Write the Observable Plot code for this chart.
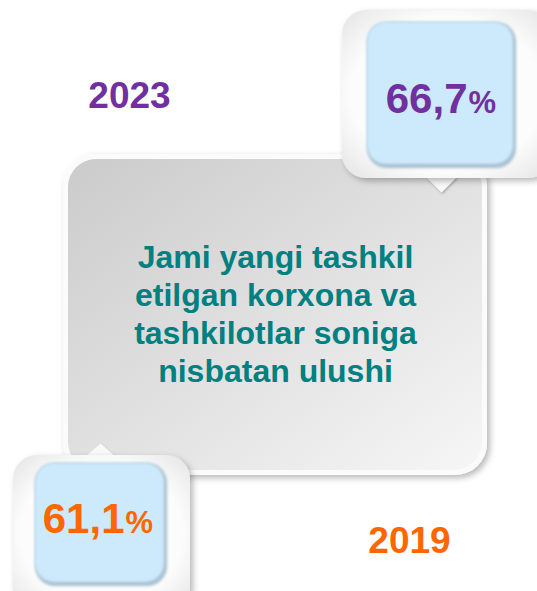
<!DOCTYPE html>
<html>
<head>
<meta charset="utf-8">
<script src="https://cdn.jsdelivr.net/npm/d3@7"></script>
<script src="https://cdn.jsdelivr.net/npm/@observablehq/plot@0.6"></script>
<style>
  html, body { margin: 0; padding: 0; background: #ffffff; }
  #chart { width: 537px; height: 591px; overflow: hidden; }
</style>
</head>
<body>
<div id="chart"></div>
<script>
// ---- data ----
const years = ["2023", "2019"];
const shares = [66.7, 61.1];
const seriesColors = ["#7030A0", "#FF6600"];
const titleLines = ["Jami yangi tashkil", "etilgan korxona va", "tashkilotlar soniga", "nisbatan ulushi"];
const titleColor = "#008080";

// ---- layout (separate from data) ----
const W = 537, H = 591;
const FONT = "'Liberation Sans', Arial, Helvetica, sans-serif";
const centerBox = {x1: 63, x2: 487, y1: 154, y2: 475};
const calloutLayout = {
  "2023": {outer: {x1: 342, x2: 552, y1: 10, y2: 178}, inner: {x1: 367, x2: 516, y1: 22, y2: 168},
           pointer: {x: 441, base: 176, tip: 192}, numEnd: 467, numBase: 112, yearX: 129, yearBase: 107},
  "2019": {outer: {x1: 13, x2: 190, y1: 455, y2: 612}, inner: {x1: 35, x2: 167, y1: 463, y2: 586},
           pointer: {x: 100, base: 457, tip: 443}, numEnd: 124, numBase: 532, yearX: 409, yearBase: 552}
};

const items = years.map((year, i) => ({
  year, share: shares[i], color: seriesColors[i], ...calloutLayout[year],
  label: shares[i].toFixed(1).replace(".", ",")
}));

const pointers = items.flatMap(d => [
  {year: d.year, x: d.pointer.x - 16, y: d.pointer.base},
  {year: d.year, x: d.pointer.x, y: d.pointer.tip},
  {year: d.year, x: d.pointer.x + 16, y: d.pointer.base}
]);

// helper: apply an SVG filter to a mark's group
const withFilter = id => (index, scales, values, dims, ctx, next) => {
  const g = next(index, scales, values, dims, ctx);
  g.setAttribute("filter", `url(#${id})`);
  return g;
};

const svg = Plot.plot({
  width: W, height: H,
  margin: 0,
  x: {domain: [0, W], range: [0, W], axis: null},
  y: {domain: [0, H], range: [0, H], axis: null},
  style: {fontFamily: FONT, background: "#ffffff"},
  marks: [
    // central box
    Plot.rect([centerBox], {x1: "x1", x2: "x2", y1: "y1", y2: "y2", rx: 32, fill: "#fbfbfb", render: withFilter("shadow")}),
    Plot.rect([centerBox], {x1: d => d.x1 + 5, x2: d => d.x2 - 5, y1: d => d.y1 + 5, y2: d => d.y2 - 5, rx: 28, fill: "url(#grayGrad)"}),
    Plot.text([titleLines.join("\n")], {
      x: (centerBox.x1 + centerBox.x2) / 2, y: 381, text: d => d,
      lineAnchor: "bottom", lineHeight: 1.18, fontSize: 32, fontWeight: "bold", fill: titleColor, fontFamily: FONT
    }),
    // callouts: pointers + outer shells
    Plot.line(pointers, {x: "x", y: "y", z: "year", fill: "#f9f9f9", stroke: "none", render: withFilter("pshadow")}),
    Plot.rect(items, {x1: d => d.outer.x1, x2: d => d.outer.x2, y1: d => d.outer.y1, y2: d => d.outer.y2, rx: 24, fill: "url(#shellGrad)", render: withFilter("shadow")}),
    // inner blue panels
    Plot.rect(items, {x1: d => d.inner.x1, x2: d => d.inner.x2, y1: d => d.inner.y1, y2: d => d.inner.y2, rx: 20, fill: "#a6bfcf", render: withFilter("soft")}),
    Plot.rect(items, {x1: d => d.inner.x1, x2: d => d.inner.x2 - 3, y1: d => d.inner.y1, y2: d => d.inner.y2 - 4, rx: 19, fill: "#cdeafc", render: withFilter("soft")}),
    // values
    Plot.text(items, {x: "numEnd", y: "numBase", text: "label", fill: "color", textAnchor: "end", lineAnchor: "bottom", fontSize: 42, fontWeight: "bold", fontFamily: FONT}),
    Plot.text(items, {x: d => d.numEnd + 1, y: "numBase", text: () => "%", fill: "color", textAnchor: "start", lineAnchor: "bottom", fontSize: 31, fontWeight: "bold", fontFamily: FONT}),
    // year labels
    Plot.text(items, {x: "yearX", y: "yearBase", text: "year", fill: "color", textAnchor: "middle", lineAnchor: "bottom", fontSize: 37, fontWeight: "bold", fontFamily: FONT})
  ]
});

// defs: gradients & filters
const s = d3.select(svg);
const defs = s.insert("defs", ":first-child");
const gg = defs.append("linearGradient").attr("id", "grayGrad").attr("x1", "0").attr("y1", "0").attr("x2", "1").attr("y2", "1");
gg.append("stop").attr("offset", "0%").attr("stop-color", "#cbcbcb");
gg.append("stop").attr("offset", "100%").attr("stop-color", "#f6f6f6");
const sg = defs.append("radialGradient").attr("id", "shellGrad").attr("cx", "0.5").attr("cy", "0.5").attr("r", "0.7");
sg.append("stop").attr("offset", "65%").attr("stop-color", "#fcfcfc");
sg.append("stop").attr("offset", "100%").attr("stop-color", "#e4e4e4");
const f = defs.append("filter").attr("id", "shadow").attr("x", "-10%").attr("y", "-10%").attr("width", "130%").attr("height", "130%");
f.append("feDropShadow").attr("dx", 3).attr("dy", 3).attr("stdDeviation", 3).attr("flood-color", "#000").attr("flood-opacity", 0.28);
const f2 = defs.append("filter").attr("id", "soft").attr("x", "-10%").attr("y", "-10%").attr("width", "120%").attr("height", "120%");
f2.append("feGaussianBlur").attr("stdDeviation", 1.5);
const f3 = defs.append("filter").attr("id", "pshadow").attr("x", "-50%").attr("y", "-50%").attr("width", "200%").attr("height", "200%");
f3.append("feDropShadow").attr("dx", 1).attr("dy", 1.5).attr("stdDeviation", 1.2).attr("flood-color", "#000").attr("flood-opacity", 0.25);

document.getElementById("chart").appendChild(svg);
</script>
</body>
</html>
